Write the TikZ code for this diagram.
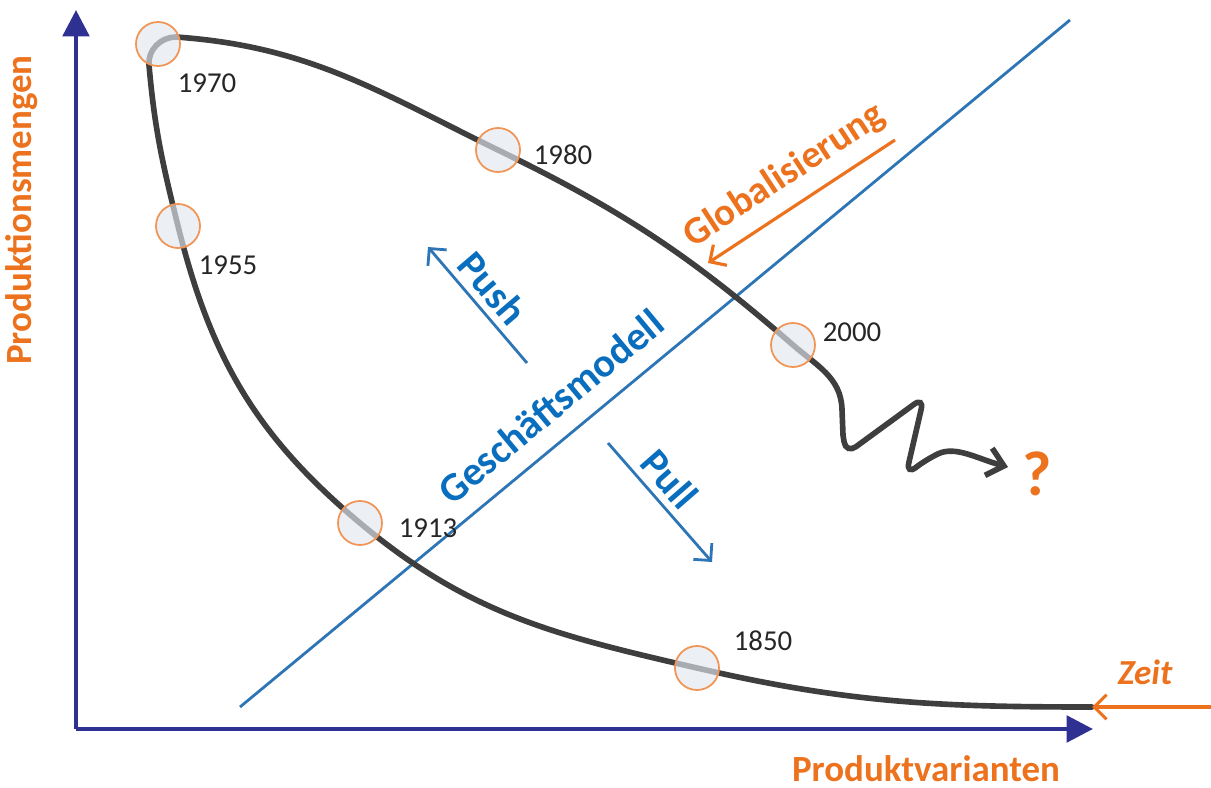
\documentclass[tikz,border=0pt]{standalone}
\usepackage{fontspec}
\setmainfont{Carlito}
\usetikzlibrary{arrows.meta}
\definecolor{axisblue}{RGB}{46,49,146}
\definecolor{modelblue}{RGB}{10,110,190}
\definecolor{lineblue}{RGB}{46,117,182}
\definecolor{timeorange}{RGB}{236,114,30}
\definecolor{curvegray}{RGB}{62,62,62}
\definecolor{ringfill}{RGB}{226,230,236}

\begin{document}
\begin{tikzpicture}[x=0.01cm,y=0.01cm,
    axisline/.style={line width=1.2pt,axisblue,-{Triangle[length=7.5pt,width=7.5pt]}},
    mainline/.style={line width=1.6pt,curvegray,line cap=round},
    ring/.style={circle,draw=timeorange!75,line width=0.5pt,fill=ringfill,fill opacity=0.65,
        minimum size=0.44cm,inner sep=0pt},
    yearlabel/.style={font=\fontsize{8.2}{10}\selectfont,black!85},
    bluearrow/.style={line width=0.8pt,lineblue,-{Straight Barb[length=3.5pt,width=7pt]}},
    orangearrow/.style={line width=0.9pt,timeorange,-{Straight Barb[length=3.5pt,width=7pt]}},
    bluelabel/.style={font=\bfseries\fontsize{11.5}{13}\selectfont,modelblue,inner sep=0pt},
    orangelabel/.style={font=\bfseries\fontsize{10.5}{12}\selectfont,timeorange}]
    \useasboundingbox (0,0) rectangle (1211,787);

    % Axes
    \coordinate (origin) at (76,58);
    \coordinate (ytip) at (76,777);
    \coordinate (xtip) at (1093,58);
    \draw[axisline] (origin) -- (ytip);
    \draw[axisline] (origin) -- (xtip);
    \node[orangelabel,rotate=90] (ylabel) at (22,577) {Produktionsmengen};
    \node[orangelabel] (xlabel) at (926,18) {Produktvarianten};

    % Business model line
    \coordinate (mstart) at (240,80);
    \coordinate (mend) at (1070,767);
    \draw[line width=0.8pt,lineblue] (mstart) -- (mend)
        node[bluelabel,pos=0.40,sloped,above=5pt] (model) {Geschäftsmodell};

    % Years on the curve
    \coordinate (c1850) at (697,119);
    \coordinate (c1913) at (360,264);
    \coordinate (c1955) at (178,561);
    \coordinate (c1970) at (158,743);
    \coordinate (c1980) at (498,637);
    \coordinate (c2000) at (793,442);
    \coordinate (cend) at (1092,80);
    \coordinate (ctip) at (1008,320);

    % Curve through time
    \draw[mainline,-{Straight Barb[length=4.5pt,width=8pt]}] (cend)
        to[out=180,in=-13] (c1850) to[out=167,in=-40] (c1913)
        to[out=140,in=-76] (c1955) to[out=104,in=-85] (149,722)
        to[out=95,in=180] (176,750) to[out=-4,in=154] (c1980)
        to[out=-26,in=139] (c2000) to[out=-41,in=92] (842,378)
        to[out=-88,in=92] (843,352) [rounded corners=3.5pt] -- (846,333) -- (924,390)
        -- (906,312) -- (927,328) [sharp corners] to[out=25,in=165] (ctip);
    \node[font=\bfseries\fontsize{18}{20}\selectfont,timeorange] (question) at (1037,313) {?};

    \foreach \yr in {1850,1913,1955,1970,1980,2000}
        \node[ring] (r\yr) at (c\yr) {};
    \node[yearlabel] (l1970) at (207,704) {1970};
    \node[yearlabel] (l1955) at (228,522) {1955};
    \node[yearlabel] (l1980) at (563,632) {1980};
    \node[yearlabel] (l2000) at (852,455) {2000};
    \node[yearlabel] (l1913) at (428,259) {1913};
    \node[yearlabel] (l1850) at (763,146) {1850};

    % Push and Pull
    \coordinate (pushstart) at (527,424);
    \coordinate (pushend) at (428,540);
    \draw[bluearrow] (pushstart) -- (pushend)
        node[bluelabel,pos=0.52,sloped,above=2pt] (push) {Push};
    \coordinate (pullstart) at (608,344);
    \coordinate (pullend) at (712,225);
    \draw[bluearrow] (pullstart) -- (pullend)
        node[bluelabel,pos=0.43,sloped,above=2pt] (pull) {Pull};

    % Globalisation and time
    \coordinate (globstart) at (895,647);
    \coordinate (globend) at (708,524);
    \draw[orangearrow] (globstart) -- (globend)
        node[orangelabel,font=\bfseries\fontsize{11}{13}\selectfont,inner sep=0pt,
            pos=0.5,sloped,above=3.5pt] (glob) {Globalisierung};
    \coordinate (zeitstart) at (1211,80);
    \draw[orangearrow] (zeitstart) -- (cend);
    \node[orangelabel,font=\bfseries\itshape\fontsize{10}{12}\selectfont] (zeit) at (1145,115) {Zeit};
\end{tikzpicture}
\end{document}
